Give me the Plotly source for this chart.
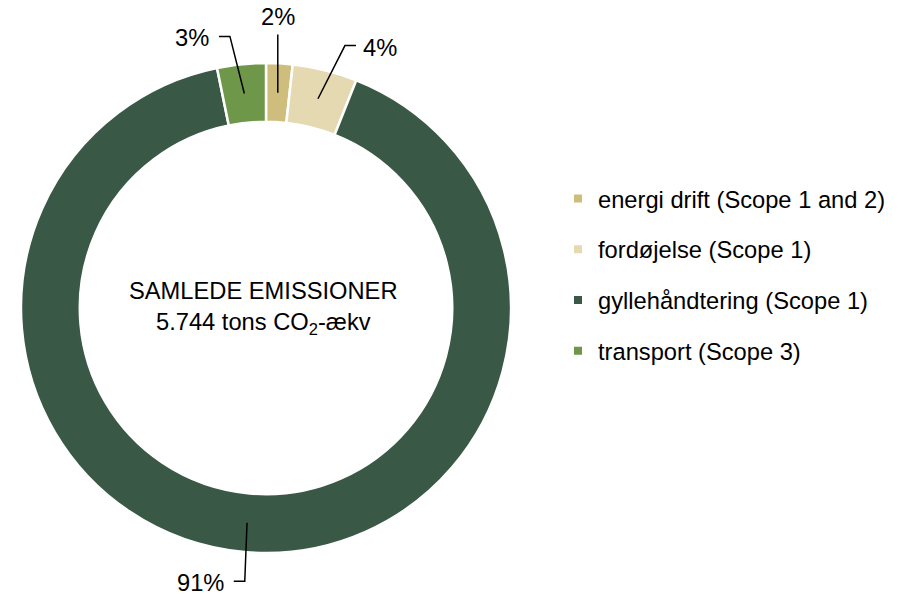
import math
import plotly.graph_objects as go

# ---- data ----
categories = ["energi drift (Scope 1 and 2)", "fordøjelse (Scope 1)",
              "gyllehåndtering (Scope 1)", "transport (Scope 3)"]
emissions_tons = [100, 245, 5215, 184]
pct_labels = ["2%", "4%", "91%", "3%"]
center_title = "SAMLEDE EMISSIONER"
center_sub = "5.744 tons CO<sub>2</sub>-ækv"

# ---- style / layout ----
colors = ["#CFBD7E", "#E5D9B2", "#3A5846", "#6E974A"]
label_side = ["top", "right", "left", "left"]
label_nudge_deg = [0, 2.8, -0.6, -1.8]
W, H = 900, 594
CX, CY, R = 266, 308, 245
HOLE = 0.76
FONT = "Liberation Sans, Arial, sans-serif"
FS = 23.7

fig = go.Figure()

fig.add_trace(go.Pie(
    labels=categories, values=emissions_tons, hole=HOLE, sort=False,
    direction="clockwise", rotation=0, textinfo="none", hoverinfo="label+percent",
    marker=dict(colors=colors, line=dict(color="white", width=2.5)),
    showlegend=False,
    domain=dict(x=[(CX - R) / W, (CX + R) / W], y=[1 - (CY + R) / H, 1 - (CY - R) / H]),
))

# legend entries (square markers)
for i, (c, col) in enumerate(zip(categories, colors)):
    fig.add_trace(go.Scatter(x=[None], y=[None], mode="markers", name=c,
                             legendgroup=str(i),
                             marker=dict(symbol="square", size=8, color=col)))

# leader lines and labels, computed from data angles
total = sum(emissions_tons)
cum = 0
shapes, annos = [], []
r_in = R * (1 + HOLE) / 2
r_el = 274
for v, lab, side, nud in zip(emissions_tons, pct_labels, label_side, label_nudge_deg):
    a_mid = math.radians(360 * (cum + v / 2) / total)
    a_el = a_mid + math.radians(nud)
    cum += v
    x0, y0 = CX + r_in * math.sin(a_mid), CY - r_in * math.cos(a_mid)
    x1, y1 = CX + r_el * math.sin(a_el), CY - r_el * math.cos(a_el)
    if side == "top":
        x1 = x0
        path = f"M{x0},{y0} L{x1},{y1}"
        annos.append(dict(x=x1, y=y1 - 17, text=lab, xanchor="center", yanchor="middle"))
    else:
        d = 11 if side == "right" else -11
        x2 = x1 + d
        path = f"M{x0},{y0} L{x1},{y1} L{x2},{y1}"
        annos.append(dict(x=x2 + (5 if d > 0 else -8), y=y1 + 2, text=lab,
                          xanchor="left" if d > 0 else "right", yanchor="middle"))
    shapes.append(dict(type="path", path=path, xref="x", yref="y",
                       line=dict(color="black", width=1.5)))

for an in annos:
    an.update(xref="x", yref="y", showarrow=False,
              font=dict(family=FONT, size=FS, color="black"))

annos.append(dict(x=CX - 3, y=CY, xref="x", yref="y", showarrow=False,
                  text=center_title + "<br>" + center_sub, align="center",
                  xanchor="center", yanchor="middle",
                  font=dict(family=FONT, size=FS, color="black")))

fig.update_layout(
    width=W, height=H, margin=dict(l=0, r=0, t=0, b=0),
    paper_bgcolor="white", plot_bgcolor="rgba(0,0,0,0)",
    xaxis=dict(range=[0, W], visible=False, fixedrange=True),
    yaxis=dict(range=[H, 0], visible=False, fixedrange=True),
    shapes=shapes, annotations=annos,
    legend=dict(x=0.62, y=0.537, xanchor="left", yanchor="middle",
                font=dict(family=FONT, size=FS, color="black"),
                tracegroupgap=17, itemclick=False),
    font=dict(family=FONT),
)

fig.write_html("out.html", config={"displayModeBar": False},
               post_script="document.body.style.margin='0';")
